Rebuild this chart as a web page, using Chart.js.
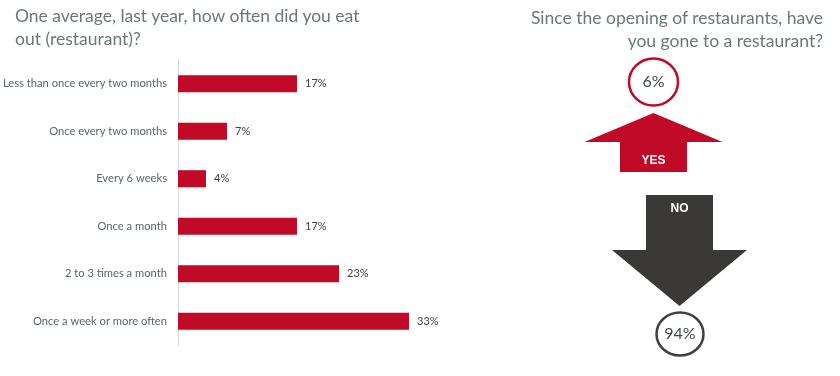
<!DOCTYPE html>
<html>
<head>
<meta charset="utf-8">
<script src="https://cdn.jsdelivr.net/npm/chart.js@4"></script>
<style>
  html, body { margin: 0; padding: 0; background: #fff; }
  #wrap { position: relative; width: 840px; height: 376px; overflow: hidden; }
  #c { position: absolute; left: 0; top: 0; }
  .ttl { position: absolute; font-family: Lato, "Open Sans", sans-serif; font-size: 17.5px; line-height: 23px; color: #6b7876; white-space: nowrap; }
  #t1 { left: 15px; top: 4px; }
  #t2 { right: 17px; top: 6px; text-align: right; }
</style>
</head>
<body>
<div id="wrap">
  <canvas id="c" width="840" height="376"></canvas>
  <div class="ttl" id="t1">One average, last year, how often did you eat<br>out (restaurant)?</div>
  <div class="ttl" id="t2">Since the opening of restaurants, have<br>you gone to a restaurant?</div>
</div>
<script>
// ---- data ----
const categories = [
  'Less than once every two months',
  'Once every two months',
  'Every 6 weeks',
  'Once a month',
  '2 to 3 times a month',
  'Once a week or more often'
];
const shares = [17, 7, 4, 17, 23, 33];
const answerLabels = ['YES', 'NO'];
const answerValues = [6, 94];

const RED = '#C00A27';
const DARK = '#3B3938';

const barLabels = {
  id: 'barLabels',
  afterDatasetsDraw(chart) {
    const ctx = chart.ctx;
    const meta = chart.getDatasetMeta(0);
    ctx.save();
    ctx.font = '11px Lato, "Open Sans", sans-serif';
    ctx.fillStyle = '#404040';
    ctx.textAlign = 'left';
    ctx.textBaseline = 'middle';
    meta.data.forEach((bar, i) => {
      ctx.fillText(shares[i] + '%', bar.x + 8, bar.y);
    });
    ctx.restore();
  }
};

const infographic = {
  id: 'infographic',
  afterDraw(chart) {
    const ctx = chart.ctx;
    ctx.save();
    // YES arrow (up)
    const yx = 653.5;
    ctx.fillStyle = RED;
    ctx.beginPath();
    ctx.moveTo(yx, 113);
    ctx.lineTo(yx + 69, 142);
    ctx.lineTo(yx + 33.5, 142);
    ctx.lineTo(yx + 33.5, 172);
    ctx.lineTo(yx - 33.5, 172);
    ctx.lineTo(yx - 33.5, 142);
    ctx.lineTo(yx - 69, 142);
    ctx.closePath();
    ctx.fill();
    // NO arrow (down)
    const nx = 679.5;
    ctx.fillStyle = DARK;
    ctx.beginPath();
    ctx.moveTo(nx - 33.5, 195);
    ctx.lineTo(nx + 33.5, 195);
    ctx.lineTo(nx + 33.5, 250);
    ctx.lineTo(nx + 67.5, 250);
    ctx.lineTo(nx, 306);
    ctx.lineTo(nx - 67.5, 250);
    ctx.lineTo(nx - 33.5, 250);
    ctx.closePath();
    ctx.fill();
    // arrow labels
    ctx.fillStyle = '#ffffff';
    ctx.font = 'bold 12px "Liberation Sans", Arial, sans-serif';
    ctx.textAlign = 'center';
    ctx.textBaseline = 'middle';
    ctx.fillText(answerLabels[0], yx, 161);
    ctx.fillText(answerLabels[1], nx, 209);
    // circles
    ctx.lineWidth = 2.5;
    ctx.fillStyle = '#ffffff';
    ctx.strokeStyle = RED;
    ctx.beginPath();
    ctx.ellipse(653.5, 82, 24.5, 23.5, 0, 0, Math.PI * 2);
    ctx.fill(); ctx.stroke();
    ctx.strokeStyle = '#404040';
    ctx.beginPath();
    ctx.ellipse(680, 334, 23.5, 21.5, 0, 0, Math.PI * 2);
    ctx.fill(); ctx.stroke();
    ctx.fillStyle = '#3f4a48';
    ctx.font = '16px Lato, "Open Sans", sans-serif';
    ctx.fillText(answerValues[0] + '%', 653.5, 82);
    ctx.fillText(answerValues[1] + '%', 680, 334);
    ctx.restore();
  }
};

new Chart(document.getElementById('c'), {
  type: 'bar',
  data: {
    labels: categories,
    datasets: [{
      data: shares,
      backgroundColor: RED,
      borderWidth: 0,
      categoryPercentage: 0.6,
      barPercentage: 0.6
    }]
  },
  options: {
    indexAxis: 'y',
    responsive: false,
    animation: false,
    events: [],
    layout: { padding: { top: 60, bottom: 31, left: 0, right: 382 } },
    plugins: { legend: { display: false }, tooltip: { enabled: false } },
    scales: {
      x: { display: false, min: 0, max: 40 },
      y: {
        grid: { display: false, drawTicks: false },
        border: { display: true, color: '#d9d9d9', width: 1 },
        ticks: {
          color: '#5b6766',
          padding: 11,
          font: { family: 'Lato, "Open Sans", sans-serif', size: 11.2 }
        },
        afterFit(scale) { scale.width = 178; }
      }
    }
  },
  plugins: [barLabels, infographic]
});
</script>
</body>
</html>
